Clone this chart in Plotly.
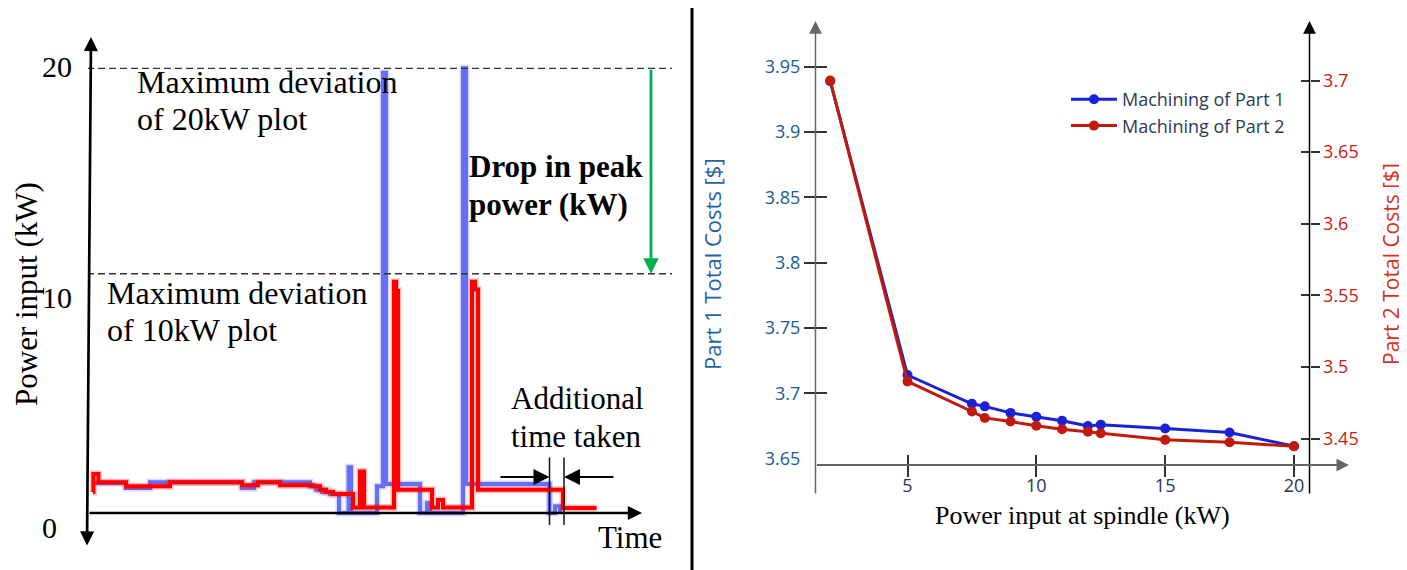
import plotly.graph_objects as go

# page body has an 8px default margin: build the figure slightly smaller and
# express every target position in window pixels, converted below.
WIN_W, WIN_H = 1407, 570
OFF = 8
W, H = WIN_W - OFF, WIN_H - OFF

# ---------------- Left panel: schematic power traces ----------------
# time (schematic units) and power input (kW), step-wise traces
time_20kw = [2, 18, 30, 76, 82, 110, 113, 116, 120, 124.5, 129.3, 130.5, 143.5, 146.5, 148,
             165, 168.5, 170, 186.5, 188, 229.75, 232.5, 235]
power_20kw = [1.35, 1.12, 1.38, 1.12, 1.38, 1.2, 1.05, 0.95, 0.85, 0.0, 2.06, 0.0, 1.2, 19.8, 1.3,
              0.0, 0.45, 0.0, 20.0, 1.3, 0.0, 0.3, 0.0]

time_10kw = [1.5, 1.7, 4.2, 18, 40, 76, 84, 95, 111.5, 115, 118, 121.5, 131.5, 135, 137, 152, 153, 154,
             171, 174, 176.5, 191, 192.5, 194, 236.5, 253.3]
power_10kw = [0.95, 1.75, 1.38, 1.2, 1.38, 1.25, 1.38, 1.25, 1.2, 1.05, 0.95, 0.85, 0.25, 1.87, 0.25,
              10.4, 10.0, 1.05, 0.25, 0.58, 0.25, 10.4, 10.05, 1.05, 0.22, 0.22]

peak_20kw_plot = 20.0
peak_10kw_plot = 10.76
end_time_20kw = 229.75
end_time_10kw = 237.0
power_tick_values = [0, 10, 20]
power_tick_labels = ["0", "10", "20"]

# ---------------- Right panel: total costs vs spindle power ----------------
spindle_power_kw = [2, 5, 7.5, 8, 9, 10, 11, 12, 12.5, 15, 17.5, 20]
part1_cost = [3.939, 3.714, 3.692, 3.690, 3.685, 3.682, 3.679, 3.675, 3.676, 3.673, 3.670, 3.6595]
part2_cost = [3.700, 3.490, 3.469, 3.4645, 3.462, 3.459, 3.4566, 3.4548, 3.4538, 3.4492, 3.4475, 3.4447]
part1_ticks = [3.65, 3.7, 3.75, 3.8, 3.85, 3.9, 3.95]
part1_ticktext = ["3.65", "3.7", "3.75", "3.8", "3.85", "3.9", "3.95"]
part2_ticks = [3.45, 3.5, 3.55, 3.6, 3.65, 3.7]
part2_ticktext = ["3.45", "3.5", "3.55", "3.6", "3.65", "3.7"]
power_axis_ticks = [5, 10, 15, 20]
power_axis_ticktext = ["5", "10", "15", "20"]

SERIF = "Liberation Serif"
SANS = "Open Sans"


def px(x):
    return (x - OFF) / W


def py(y):
    return 1 - (y - OFF) / H


fig = go.Figure()

# ---- left panel traces (soft halo + main line) ----
for t, p, col in [(time_20kw, power_20kw, "#6470fa"), (time_10kw, power_10kw, "#ff0000")]:
    fig.add_trace(go.Scatter(x=t, y=p, mode="lines", line=dict(color=col, width=7, shape="hv"),
                             opacity=0.25, showlegend=False, hoverinfo="skip", xaxis="x", yaxis="y"))
    fig.add_trace(go.Scatter(x=t, y=p, mode="lines", line=dict(color=col, width=4, shape="hv"),
                             showlegend=False, hoverinfo="skip", xaxis="x", yaxis="y"))

# ---- right panel traces ----
fig.add_trace(go.Scatter(x=spindle_power_kw, y=part1_cost, mode="lines+markers", name="Machining of Part 1",
                         line=dict(color="#1a22d6", width=3), marker=dict(size=10, color="#1a22d6"),
                         xaxis="x2", yaxis="y2", legendgroup="p1"))
fig.add_trace(go.Scatter(x=spindle_power_kw, y=part2_cost, mode="lines+markers", name="Machining of Part 2",
                         line=dict(color="#c3190a", width=3), marker=dict(size=10, color="#c3190a"),
                         xaxis="x2", yaxis="y3", legendgroup="p2"))
# empty traces so the helper tick axes are drawn
for xa, ya in [("x3", "y2"), ("x4", "y2"), ("x2", "y4"), ("x2", "y5"), ("x2", "y6")]:
    fig.add_trace(go.Scatter(x=[None], y=[None], mode="lines", showlegend=False, hoverinfo="skip",
                             xaxis=xa, yaxis=ya))

# ---- axes ----
x2_px_per_unit = (1294 - 907.5) / 15
x2_zero_px = 907.5 - 5 * x2_px_per_unit
x2_range = [(816 - x2_zero_px) / x2_px_per_unit, (1309.5 - x2_zero_px) / x2_px_per_unit]
x2_dom = [px(816), px(1309.5)]
xpos = py(465)
y2_range = [3.95 - (496 - 66.8) / 1306, 3.95 + (66.8 - 22) / 1306]
y3_range = [3.45 - (496 - 438.7) / 1432.8, 3.7 + (80.5 - 22) / 1432.8]
y_dom = [py(496), py(22)]
marked_part1_ticks = [v for v in part1_ticks if v != part1_ticks[0]]

common = dict(showgrid=False, zeroline=False, showline=False)
xhelper = dict(domain=x2_dom, range=x2_range, anchor="free", position=xpos, overlaying="x2",
               tickmode="array", tickvals=power_axis_ticks, tickwidth=1.5, tickcolor="#333",
               showticklabels=False, **common)
fig.update_layout(
    xaxis=dict(domain=[px(88), px(672)], range=[-1, 291], visible=False, **common),
    yaxis=dict(domain=[py(545), py(37)], range=[(513 - 545) / 22.235, (513 - 37) / 22.235],
               visible=False, **common),
    xaxis2=dict(domain=x2_dom, range=x2_range, anchor="free", position=xpos,
                tickmode="array", tickvals=power_axis_ticks, ticktext=power_axis_ticktext,
                ticks="outside", ticklen=4, tickcolor="rgba(0,0,0,0)",
                tickfont=dict(family=SANS, size=18, color="#283452"), **common),
    xaxis3=dict(ticks="inside", ticklen=10, **xhelper),
    xaxis4=dict(ticks="outside", ticklen=11, **xhelper),
    yaxis2=dict(domain=y_dom, range=y2_range, anchor="x2", side="left",
                tickmode="array", tickvals=part1_ticks, ticktext=part1_ticktext,
                ticks="outside", ticklen=11, tickcolor="rgba(0,0,0,0)",
                tickfont=dict(family=SANS, size=18, color="#1d5a93"), **common),
    yaxis3=dict(range=y3_range, anchor="x2", side="right", overlaying="y2",
                tickmode="array", tickvals=part2_ticks, ticktext=part2_ticktext,
                ticks="outside", ticklen=9, tickwidth=1.5, tickcolor="#333",
                tickfont=dict(family=SANS, size=18, color="#c8200e"), **common),
    yaxis4=dict(range=y2_range, anchor="x2", side="left", overlaying="y2",
                tickmode="array", tickvals=marked_part1_ticks, ticks="outside", ticklen=11, tickwidth=1.5,
                tickcolor="#333", showticklabels=False, **common),
    yaxis5=dict(range=y2_range, anchor="x2", side="left", overlaying="y2",
                tickmode="array", tickvals=marked_part1_ticks, ticks="inside", ticklen=11, tickwidth=1.5,
                tickcolor="#333", showticklabels=False, **common),
    yaxis6=dict(range=y3_range, anchor="x2", side="right", overlaying="y2",
                tickmode="array", tickvals=part2_ticks, ticks="inside", ticklen=9, tickwidth=1.5,
                tickcolor="#333", showticklabels=False, **common),
)

# ---- shapes ----
shapes = []
for lvl in [peak_20kw_plot, peak_10kw_plot]:
    shapes.append(dict(type="line", xref="x", yref="y", x0=-1.5, x1=291, y0=lvl, y1=lvl,
                       line=dict(color="#333", width=1.3, dash="7px,4px")))
for te in [end_time_20kw, end_time_10kw]:
    shapes.append(dict(type="line", xref="x", yref="y", x0=te, x1=te, y0=-0.54, y1=2.5,
                       line=dict(color="#111", width=1.5)))
shapes.append(dict(type="line", xref="paper", yref="paper", x0=px(692), x1=px(692), y0=0, y1=1,
                   line=dict(color="#000", width=3)))
fig.update_layout(shapes=shapes)

ann = []


def arrow_px(tip, tail, color, width, size, both=False):
    d = dict(x=px(tip[0]), y=py(tip[1]), xref="paper", yref="paper", text="", showarrow=True,
             axref="pixel", ayref="pixel", ax=tail[0] - tip[0], ay=tail[1] - tip[1],
             arrowhead=2, arrowsize=size, arrowwidth=width, arrowcolor=color, standoff=0)
    if both:
        d.update(arrowside="end+start", startarrowhead=2, startarrowsize=size, startstandoff=0)
    return d


# left panel axes
ann.append(arrow_px((91, 37), (87, 547), "#000", 2.7, 1.05, both=True))
ann.append(arrow_px((642, 513), (88, 513), "#000", 2.7, 1.05))
# green "drop in peak power" arrow (data coords)
ann.append(dict(x=280.5, y=peak_10kw_plot, xref="x", yref="y", axref="x", ayref="y",
                ax=280.5, ay=peak_20kw_plot, text="", showarrow=True, arrowhead=2, arrowsize=1.1,
                arrowwidth=2.8, arrowcolor="#00b050", standoff=0))
# additional time arrows
for tip, tail in [(end_time_20kw, 204.5), (end_time_10kw, 262.5)]:
    ann.append(dict(x=tip, y=1.62, xref="x", yref="y", axref="x", ayref="y", ax=tail, ay=1.62,
                    text="", showarrow=True, arrowhead=2, arrowsize=1.6, arrowwidth=2,
                    arrowcolor="#000", standoff=0))
# right panel axes
ann.append(arrow_px((815.5, 21), (815.5, 495), "#666", 1.5, 1.7))
ann.append(arrow_px((1309.5, 21), (1309.5, 495), "#000", 1.5, 1.7))
ann.append(arrow_px((1349, 465), (815.5, 465), "#666", 2, 1.25))


def text_px(txt, x, baseline, size, family=SERIF, color="#000", anchor="left", bold=False):
    center = baseline - 0.3375 * size
    return dict(x=px(x), y=py(center), xref="paper", yref="paper",
                text=("<b>%s</b>" % txt) if bold else txt,
                showarrow=False, xanchor=anchor, yanchor="middle",
                font=dict(family=family, size=size, color=color))


FS = 32
ann += [
    text_px("Maximum deviation", 135, 93, FS),
    text_px("of 20kW plot", 135, 130, FS),
    text_px("Drop in peak", 467, 177.4, 31, bold=True),
    text_px("power (kW)", 467, 215, 31, bold=True),
    text_px("Maximum deviation", 105, 304, FS),
    text_px("of 10kW plot", 105, 340.6, FS),
    text_px("Additional", 508.5, 409.3, 31),
    text_px("time taken", 508.5, 446.7, 31),
    text_px("Time", 595.5, 548, 31),
]
# left panel y tick labels
label_shift = {0: -14, 10: -7, 20: 2}
for v, lab in zip(power_tick_values, power_tick_labels):
    ann.append(dict(x=px(40), y=v, xref="paper", yref="y", text=lab, showarrow=False,
                    xanchor="left", yanchor="middle", yshift=label_shift[v],
                    font=dict(family=SERIF, size=30, color="#000")))
ann.append(dict(x=px(26), y=py(294), xref="paper", yref="paper", text="Power input (kW)", showarrow=False,
                textangle=-90, xanchor="center", yanchor="middle",
                font=dict(family=SERIF, size=31, color="#000")))
# right panel titles
ann.append(text_px("Power input at spindle (kW)", 1082.5, 524, 26, anchor="center"))
ann.append(dict(x=px(712), y=py(264), xref="paper", yref="paper", text="Part 1 Total Costs [$]",
                showarrow=False, textangle=-90, xanchor="center", yanchor="middle",
                font=dict(family=SANS, size=22, color="#1f64a6")))
ann.append(dict(x=px(1391), y=py(264), xref="paper", yref="paper", text="Part 2 Total Costs [$]",
                showarrow=False, textangle=-90, xanchor="center", yanchor="middle",
                font=dict(family=SANS, size=21, color="#d4331a")))

fig.update_layout(
    annotations=ann,
    width=W, height=H, autosize=False,
    margin=dict(l=0, r=0, t=0, b=0),
    paper_bgcolor="white", plot_bgcolor="white",
    showlegend=True,
    legend=dict(x=px(1066), y=py(81), xanchor="left", yanchor="top", bgcolor="rgba(0,0,0,0)",
                font=dict(family=SANS, size=18, color="#2e3a55"), tracegroupgap=3,
                traceorder="normal", itemwidth=46),
)

fig.write_html("out.html")
